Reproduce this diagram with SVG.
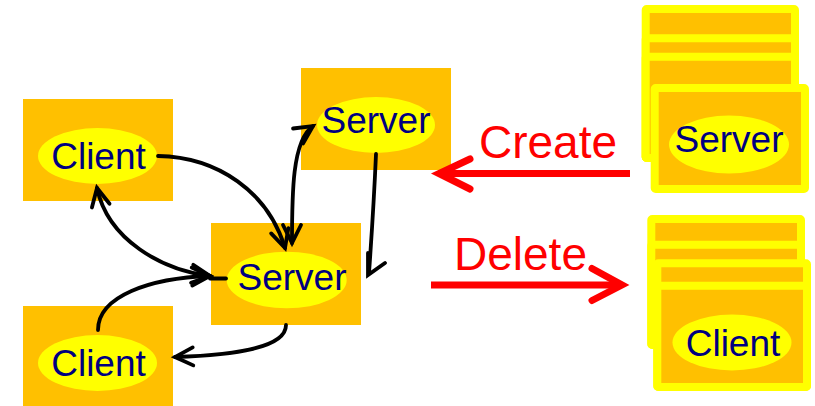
<svg xmlns="http://www.w3.org/2000/svg" width="815" height="406" viewBox="0 0 815 406">
  <style>
    .box { fill: #FFC000; }
    .oval { fill: #FFFF00; }
    .label { font-family: "Liberation Sans", Arial, sans-serif; font-size: 37px; fill: #000080; text-anchor: middle; }
    .card { fill: #FFC000; stroke: #FFFF00; stroke-width: 8; stroke-linejoin: round; }
    .link { fill: none; stroke: #000000; stroke-width: 3.8; stroke-linecap: round; }
    .red { fill: none; stroke: #FF0000; stroke-width: 7; }
    .redhead { fill: none; stroke: #FF0000; stroke-width: 7; stroke-linecap: round; stroke-linejoin: miter; }
    .action { font-family: "Liberation Sans", Arial, sans-serif; font-size: 46px; fill: #FF0000; }
  </style>
  <defs>
    <marker id="open-arrow" markerUnits="userSpaceOnUse" viewBox="-22 -12 24 24" refX="0" refY="0" markerWidth="24" markerHeight="24" orient="auto-start-reverse" overflow="visible">
      <path d="M-18,-9 L0,0 L-18,9" fill="none" stroke="#000000" stroke-width="3.8" stroke-linecap="round" stroke-linejoin="miter"/>
    </marker>
  </defs>

  <!-- processes -->
  <g id="client-top">
    <rect class="box" x="23" y="99" width="150" height="102"/>
    <ellipse class="oval" cx="97.5" cy="156" rx="59.5" ry="28"/>
    <text class="label" x="98.5" y="168.5">Client</text>
  </g>
  <g id="client-bottom">
    <rect class="box" x="23" y="306" width="150" height="100"/>
    <ellipse class="oval" cx="97.5" cy="363" rx="59.5" ry="28"/>
    <text class="label" x="98.5" y="376">Client</text>
  </g>
  <g id="server-main">
    <rect class="box" x="211" y="223" width="150" height="102"/>
    <ellipse class="oval" cx="286.7" cy="280" rx="60" ry="28.3"/>
    <text class="label" x="292" y="289.5">Server</text>
  </g>
  <g id="server-new">
    <rect class="box" x="301" y="68" width="150" height="102"/>
    <ellipse class="oval" cx="376" cy="125" rx="59" ry="28"/>
    <text class="label" x="376" y="132.5">Server</text>
  </g>

  <!-- pool of server processes -->
  <g id="server-pool">
    <rect class="card" x="645.7" y="9" width="149.3" height="149" rx="1"/>
    <rect class="card" x="645.7" y="38.3" width="149.3" height="119.7" rx="1"/>
    <rect class="card" x="645.7" y="56.7" width="149.3" height="101.3" rx="1"/>
    <rect class="card" x="654.7" y="88" width="150.3" height="101" rx="1"/>
    <ellipse class="oval" cx="729" cy="144.5" rx="60" ry="29"/>
    <text class="label" x="729" y="152">Server</text>
  </g>

  <!-- pool of client processes -->
  <g id="client-pool">
    <rect class="card" x="651.3" y="219" width="149.7" height="126" rx="1"/>
    <rect class="card" x="651.3" y="244.7" width="149.7" height="100.3" rx="1"/>
    <rect class="card" x="657.3" y="263.3" width="149.7" height="123.7" rx="1"/>
    <rect class="card" x="657.3" y="285.7" width="149.7" height="101.3" rx="1"/>
    <ellipse class="oval" cx="732" cy="342.5" rx="59.5" ry="28"/>
    <text class="label" x="733" y="356">Client</text>
  </g>

  <!-- create / delete actions -->
  <g id="create">
    <path class="red" d="M630,173.5 H440"/>
    <path class="redhead" d="M470,159 L439,173.5 L470,189"/>
    <text class="action" x="479" y="158">Create</text>
  </g>
  <g id="delete">
    <path class="red" d="M431,285 H620"/>
    <path class="redhead" d="M592,268.5 L622,285 L592,300.5"/>
    <text class="action" x="454" y="270">Delete</text>
  </g>

  <!-- message paths between processes -->
  <g id="connectors">
    <path class="link" d="M158,156 C218,157 268,192 285,248" marker-end="url(#open-arrow)"/>
    <path class="link" d="M292,243 C292,195 292,140 313,126" marker-start="url(#open-arrow)" marker-end="url(#open-arrow)"/>
    <path class="link" d="M97,188 C108,240 162,270 210,276" marker-start="url(#open-arrow)" marker-end="url(#open-arrow)"/>
    <path class="link" d="M98,330 C98,296 150,278 210,276" marker-end="url(#open-arrow)"/>
    <path class="link" d="M210,278.5 H226"/>
    <path class="link" d="M286,325 C286,348 235,355 175,357" marker-end="url(#open-arrow)"/>
    <path class="link" d="M376,154 C374,200 371,245 369,273"/>
    <path class="link" d="M368,253 L368,275 L385,263"/>
  </g>
</svg>
